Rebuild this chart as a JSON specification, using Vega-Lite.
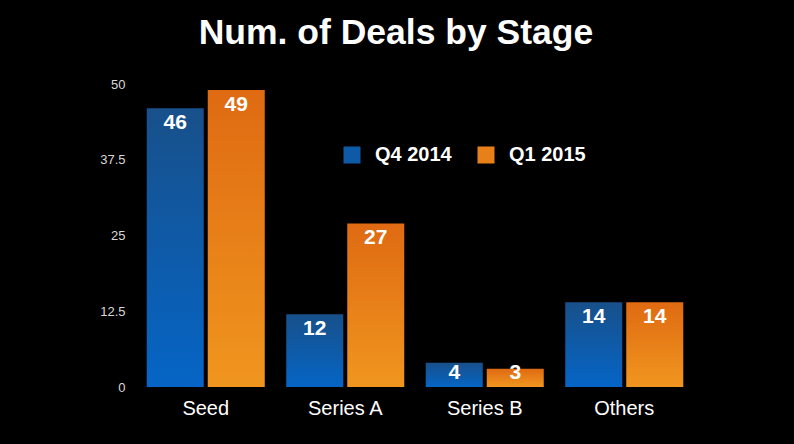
{
  "$schema": "https://vega.github.io/schema/vega-lite/v6.json",
  "width": 558,
  "height": 303,
  "autosize": {"type": "none"},
  "padding": {"left": 136, "top": 84, "right": 100, "bottom": 57},
  "background": "#000000",
  "config": {"view": {"stroke": null}, "font": "Liberation Sans"},
  "title": {
    "text": "Num. of Deals by Stage",
    "anchor": "middle",
    "frame": "group",
    "dx": -19,
    "offset": -1,
    "baseline": "alphabetic",
    "font": "Liberation Sans",
    "fontSize": 35.5,
    "fontWeight": "bold",
    "color": "#ffffff"
  },
  "data": {
    "values": [
      {"stage": "Seed", "series": "Q4 2014", "deals": 46},
      {"stage": "Seed", "series": "Q1 2015", "deals": 49},
      {"stage": "Series A", "series": "Q4 2014", "deals": 12},
      {"stage": "Series A", "series": "Q1 2015", "deals": 27},
      {"stage": "Series B", "series": "Q4 2014", "deals": 4},
      {"stage": "Series B", "series": "Q1 2015", "deals": 3},
      {"stage": "Others", "series": "Q4 2014", "deals": 14},
      {"stage": "Others", "series": "Q1 2015", "deals": 14}
    ]
  },
  "encoding": {
    "x": {
      "field": "stage",
      "type": "nominal",
      "sort": ["Seed", "Series A", "Series B", "Others"],
      "scale": {"paddingInner": 0.154, "paddingOuter": 0.077},
      "axis": {
        "title": null,
        "labelAngle": 0,
        "domain": false,
        "ticks": false,
        "labelPadding": 11,
        "labelFont": "Liberation Sans",
        "labelFontSize": 20,
        "labelColor": "#ffffff"
      }
    },
    "xOffset": {
      "field": "series",
      "type": "nominal",
      "scale": {"domain": ["Q4 2014", "Q1 2015"], "paddingInner": 0.0656, "paddingOuter": 0}
    },
    "y": {
      "field": "deals",
      "type": "quantitative",
      "scale": {"domain": [0, 50], "nice": false},
      "axis": {
        "title": null,
        "values": [0, 12.5, 25, 37.5, 50],
        "format": ".3~g",
        "domain": false,
        "ticks": false,
        "grid": false,
        "labelPadding": 11,
        "labelFont": "Liberation Sans",
        "labelFontSize": 13,
        "labelColor": "#d8d8d8"
      }
    }
  },
  "layer": [
    {
      "transform": [{"filter": "datum.series === 'Q4 2014'"}],
      "mark": {
        "type": "bar",
        "color": {
          "gradient": "linear", "x1": 0, "y1": 0, "x2": 0, "y2": 1,
          "stops": [{"offset": 0, "color": "#18508a"}, {"offset": 1, "color": "#0565c6"}]
        }
      }
    },
    {
      "transform": [{"filter": "datum.series === 'Q1 2015'"}],
      "mark": {
        "type": "bar",
        "color": {
          "gradient": "linear", "x1": 0, "y1": 0, "x2": 0, "y2": 1,
          "stops": [{"offset": 0, "color": "#df6a12"}, {"offset": 1, "color": "#f0961f"}]
        }
      }
    },
    {
      "mark": {"type": "bar", "opacity": 0},
      "encoding": {
        "color": {
          "field": "series",
          "type": "nominal",
          "scale": {"domain": ["Q4 2014", "Q1 2015"], "range": ["#0f5aa6", "#e8801a"]},
          "legend": {
            "title": null,
            "orient": "none",
            "direction": "horizontal",
            "legendX": 206,
            "legendY": 61,
            "padding": 0,
            "symbolType": "square",
            "symbolSize": 289,
            "symbolOpacity": 1,
            "symbolStrokeWidth": 0,
            "labelOffset": 13,
            "columnPadding": 24,
            "labelFont": "Liberation Sans",
            "labelFontSize": 20,
            "labelFontWeight": "bold",
            "labelColor": "#ffffff"
          }
        }
      }
    },
    {
      "mark": {
        "type": "text",
        "baseline": "middle",
        "dy": {"expr": "min(15, datum.deals * 6.06 - 14)"},
        "font": "Liberation Sans",
        "fontSize": 21,
        "fontWeight": "bold",
        "color": "#ffffff"
      },
      "encoding": {"text": {"field": "deals", "type": "quantitative"}}
    }
  ]
}
